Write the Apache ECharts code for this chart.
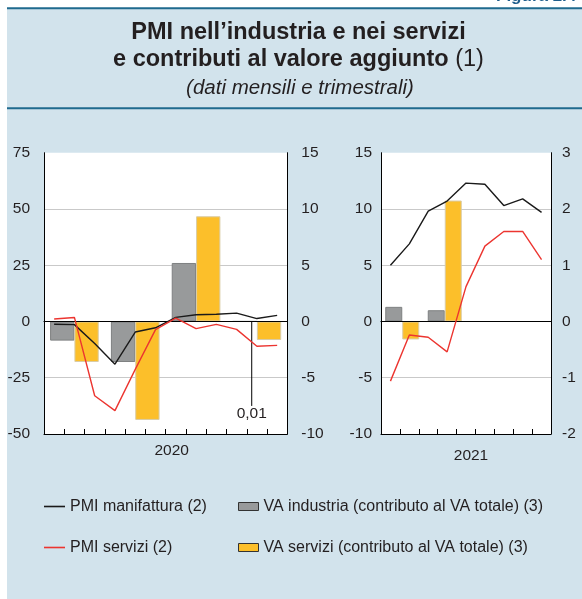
<!DOCTYPE html>
<html><head><meta charset="utf-8">
<script src="https://cdn.jsdelivr.net/npm/echarts@6/dist/echarts.min.js"></script>
<style>html,body{margin:0;padding:0;background:#fff;}#c{width:582px;height:599px;}</style>
</head><body><div id="c"></div>
<script>
// ---------- data ----------
const months2020 = ['gen','feb','mar','apr','mag','giu','lug','ago','set','ott','nov','dic'];
const pmiManif2020 = [-1.2, -1.4, -9.8, -19.0, -4.7, -2.8, 1.8, 3.0, 3.2, 3.7, 1.3, 2.7];
const pmiServ2020  = [1.1, 1.8, -33.0, -39.6, -21.3, -3.6, 1.5, -3.2, -1.3, -3.5, -11.0, -10.6];
const quarters = ['I trim.','II trim.','III trim.','IV trim.'];
const vaInd2020  = [-1.7, -3.6, 5.2, 0.01];
const vaServ2020 = [-3.6, -8.75, 9.35, -1.65];

const months2021 = ['gen','feb','mar','apr','mag','giu','lug','ago','set'];
const pmiManif2021 = [5.0, 6.9, 9.8, 10.7, 12.3, 12.2, 10.3, 10.9, 9.7];
const pmiServ2021  = [-5.3, -1.2, -1.4, -2.7, 3.1, 6.7, 8.0, 8.0, 5.5];
const vaInd2021  = [0.26, 0.2, null, null];
const vaServ2021 = [-0.32, 2.15, null, null];

const ticksLeft2020  = [-50, -25, 0, 25, 50, 75];
const ticksRight2020 = [-10, -5, 0, 5, 10, 15];
const ticksLeft2021  = [-10, -5, 0, 5, 10, 15];
const ticksRight2021 = [-2, -1, 0, 1, 2, 3];
const year1 = '2020', year2 = '2021';

const names = {
  manif: 'PMI manifattura (2)',
  serv: 'PMI servizi (2)',
  vaInd: 'VA industria (contributo al VA totale) (3)',
  vaServ: 'VA servizi (contributo al VA totale) (3)'
};

// ---------- style ----------
const FONT = '"Liberation Sans", Arial, Helvetica, sans-serif';
const TXT = '#231f20';
const BLUE_LINE = '#1f6a8e';
const PANEL = '#d2e3ec';
const GREY = '#989a9b', YELLOW = '#fcbf2a';
const BLACK_L = '#1a1a1a', RED_L = '#ec3530';
const TOP = 152.7, BOTTOM = 165;

function tk(a){ return {min:a[0], max:a[a.length-1], interval:a[1]-a[0]}; }

function yAx(gridIndex, position, arr, margin, split){
  const t = tk(arr);
  return {
    type:'value', gridIndex, position, min:t.min, max:t.max, interval:t.interval,
    axisLine:{show:true, onZero:false, lineStyle:{color:'#000', width:1}},
    axisTick:{show:false},
    axisLabel:{color:TXT, fontFamily:FONT, fontSize:15.5, margin},
    splitLine:{show:split, showMinLine:false, showMaxLine:false, lineStyle:{color:'#c9c9c9', width:1}}
  };
}
function xMonths(gridIndex, data, name, gap, pad){
  return {
    type:'category', gridIndex, data, position:'bottom', boundaryGap:true,
    axisLine:{show:true, onZero:false, lineStyle:{color:'#000', width:1}},
    axisTick:{show:true, inside:true, length:5, interval:0, lineStyle:{color:'#000', width:1}},
    axisLabel:{show:false},
    splitLine:{show:false},
    name, nameLocation:'middle', nameGap:gap,
    nameTextStyle:{color:TXT, fontFamily:FONT, fontSize:15.5, verticalAlign:'middle', padding:[0,0,0,pad]}
  };
}
function xQuarters(gridIndex){
  return {
    type:'category', gridIndex, data:quarters, position:'bottom', z:3,
    axisLine:{show:true, onZero:true, lineStyle:{color:'#000', width:1.2}},
    axisTick:{show:false}, axisLabel:{show:false}, splitLine:{show:false}
  };
}
function lineSeries(name, data, xi, yi, color){
  return {type:'line', name, data, xAxisIndex:xi, yAxisIndex:yi, symbol:'none', z:4,
    lineStyle:{color, width:1.4}, itemStyle:{color}, animation:false};
}
function barSeries(name, data, xi, yi, color, border, withLabel){
  const s = {type:'bar', name, xAxisIndex:xi, yAxisIndex:yi, barGap:'0%', barCategoryGap:'20%', z:2,
    itemStyle:{color, borderColor:border, borderWidth:1}, animation:false,
    data: data.map(v => v)};
  if (withLabel){
    s.data = data.map(v => (v !== null && Math.abs(v) < 0.05) ? {
      value:v,
      label:{show:true, position:'bottom', distance:5, color:TXT, fontFamily:FONT, fontSize:15.5,
        formatter: p => p.value.toFixed(2).replace('.', ',')}
    } : v);
    s.labelLayout = {dx:7, dy:79};
    s.labelLine = {show:true, lineStyle:{color:'#000', width:1}};
  }
  return s;
}

const chart = echarts.init(document.getElementById('c'), null, {renderer:'canvas'});

const option = {
  animation:false,
  backgroundColor:'#ffffff',
  textStyle:{fontFamily:FONT},
  graphic:[
    {type:'rect', z:-10, shape:{x:7, y:9, width:575, height:590}, style:{fill:PANEL}},
    {type:'rect', z:-9, shape:{x:7, y:7.3, width:575, height:2}, style:{fill:BLUE_LINE}},
    {type:'rect', z:-9, shape:{x:7, y:107.3, width:575, height:2}, style:{fill:BLUE_LINE}},
    {type:'text', z:10, x:496, y:5, style:{text:'Figura 2.4', fontFamily:FONT, fontWeight:'bold', fontSize:17,
      fill:'#1f5e8c', align:'left', verticalAlign:'bottom'}},
    {type:'text', z:10, x:298.5, y:32.5, style:{text:'PMI nell\u2019industria e nei servizi', fontFamily:FONT,
      fontWeight:'bold', fontSize:23.5, fill:TXT, align:'center', verticalAlign:'middle'}},
    {type:'text', z:10, x:298.5, y:59.5, style:{text:'{b|e contributi al valore aggiunto }{r|(1)}',
      align:'center', verticalAlign:'middle',
      rich:{b:{fontFamily:FONT, fontWeight:'bold', fontSize:23.5, fill:TXT},
            r:{fontFamily:FONT, fontWeight:'normal', fontSize:23.5, fill:TXT}}}},
    {type:'text', z:10, x:300, y:88, style:{text:'(dati mensili e trimestrali)', fontFamily:FONT,
      fontStyle:'italic', fontSize:20.5, fill:TXT, align:'center', verticalAlign:'middle'}}
  ],
  legend:[
    {orient:'vertical', left:44, top:498.5, padding:0, itemWidth:21, itemHeight:1.6, itemGap:25,
      textStyle:{color:TXT, fontFamily:FONT, fontSize:16, lineHeight:16},
      data:[{name:names.manif, icon:'rect', itemStyle:{color:BLACK_L}},
            {name:names.serv, icon:'rect', itemStyle:{color:RED_L}}], selectedMode:false},
    {orient:'vertical', left:238, top:498.5, padding:0, itemWidth:20, itemHeight:8, itemGap:25,
      textStyle:{color:TXT, fontFamily:FONT, fontSize:16, lineHeight:16},
      data:[{name:names.vaInd, icon:'rect', itemStyle:{borderColor:'#333', borderWidth:1}},
            {name:names.vaServ, icon:'rect', itemStyle:{borderColor:'#333', borderWidth:1}}], selectedMode:false}
  ],
  grid:[
    {left:44, right:582-287.3, top:TOP, bottom:BOTTOM, show:true, backgroundColor:'#fff', borderWidth:0, containLabel:false},
    {left:381, right:582-551, top:TOP, bottom:BOTTOM, show:true, backgroundColor:'#fff', borderWidth:0, containLabel:false}
  ],
  xAxis:[
    xMonths(0, months2020, year1, 17, 12),
    xQuarters(0),
    xMonths(1, months2021, year2, 22, 10),
    xQuarters(1)
  ],
  yAxis:[
    yAx(0, 'left', ticksLeft2020, 14, true),
    yAx(0, 'right', ticksRight2020, 14, false),
    yAx(1, 'left', ticksLeft2021, 9, true),
    yAx(1, 'right', ticksRight2021, 11, false)
  ],
  series:[
    barSeries(names.vaInd, vaInd2020, 1, 1, GREY, '#7e8081', true),
    barSeries(names.vaServ, vaServ2020, 1, 1, YELLOW, '#d9cca6', false),
    lineSeries(names.manif, pmiManif2020, 0, 0, BLACK_L),
    lineSeries(names.serv, pmiServ2020, 0, 0, RED_L),
    barSeries(names.vaInd, vaInd2021, 3, 3, GREY, '#7e8081', false),
    barSeries(names.vaServ, vaServ2021, 3, 3, YELLOW, '#d9cca6', false),
    lineSeries(names.manif, pmiManif2021, 2, 2, BLACK_L),
    lineSeries(names.serv, pmiServ2021, 2, 2, RED_L)
  ]
};
chart.setOption(option);
</script>
</body></html>
